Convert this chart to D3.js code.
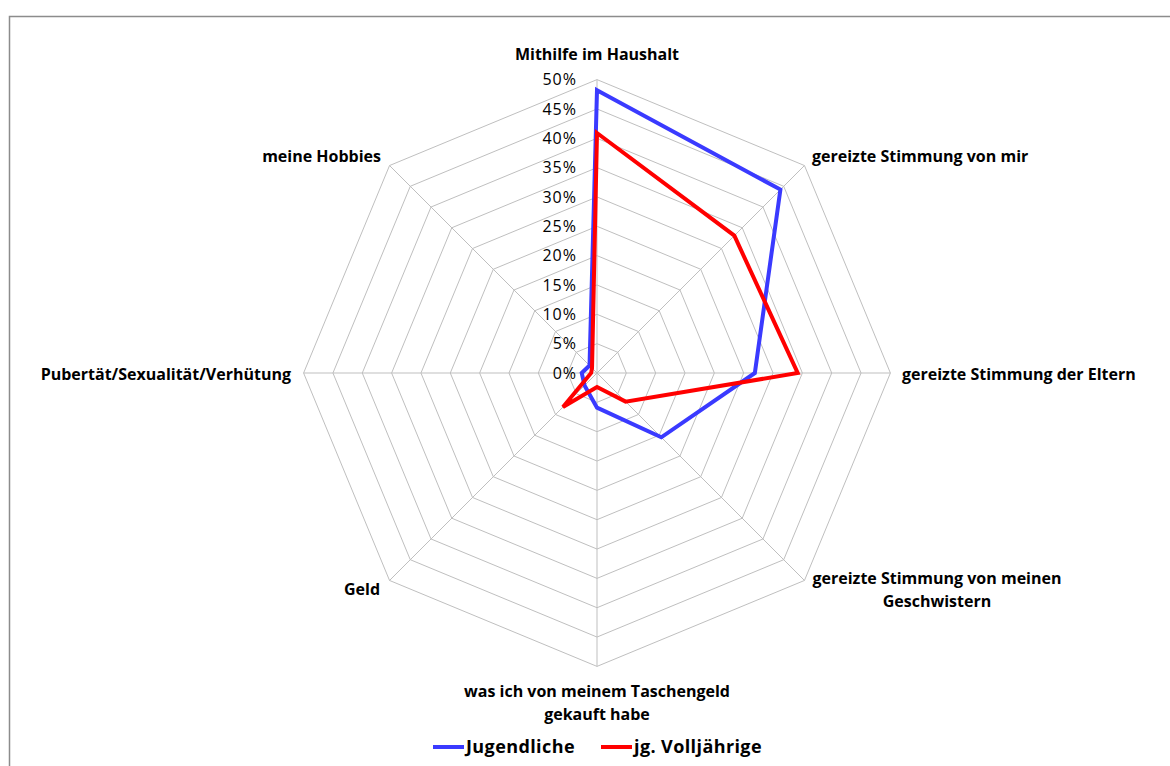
<!DOCTYPE html>
<html>
<head>
  <meta charset="UTF-8">
  <title>Radar</title>
  <script src="https://d3js.org/d3.v7.min.js"></script>
  <style>
    body { margin: 0; background: #fff; }
    svg { display: block; font-family: "Open Sans", Lato, sans-serif; }
  </style>
</head>
<body>
    <svg></svg>

    <script>
        // categories (clockwise from top)
        let categories = [
            ["Mithilfe im Haushalt"],
            ["gereizte Stimmung von mir"],
            ["gereizte Stimmung der Eltern"],
            ["gereizte Stimmung von meinen", "Geschwistern"],
            ["was ich von meinem Taschengeld", "gekauft habe"],
            ["Geld"],
            ["Pubertät/Sexualität/Verhütung"],
            ["meine Hobbies"]
        ];
        let jugendliche = [0.482, 0.442, 0.269, 0.155, 0.059, 0.030, 0.026, 0.018];
        let volljaehrige = [0.409, 0.331, 0.342, 0.069, 0.024, 0.082, 0.010, 0.012];
        let ticks = [0, 0.05, 0.10, 0.15, 0.20, 0.25, 0.30, 0.35, 0.40, 0.45, 0.50];
        let seriesNames = ["Jugendliche", "jg. Volljährige"];

        let width = 1170, height = 766;
        let cx = 597, cy = 373;
        let svg = d3.select("svg")
            .attr("width", width)
            .attr("height", height);

        // outer frame, runs off the page on right/bottom
        svg.append("rect")
            .attr("x", 9.5).attr("y", 16.5)
            .attr("width", 1200).attr("height", 800)
            .attr("fill", "none")
            .attr("stroke", "#8c8c8c")
            .attr("stroke-width", 1.5);

        let r = d3.scaleLinear().domain([0, 0.5]).range([0, 293.4]);
        let angle = i => i * 2 * Math.PI / categories.length;
        let px = (i, v) => cx + r(v) * Math.sin(angle(i));
        let py = (i, v) => cy - r(v) * Math.cos(angle(i));

        let g = svg.append("g");

        // grid polygons
        ticks.slice(1).forEach(t => {
            g.append("polygon")
                .attr("points", categories.map((c, i) => px(i, t) + "," + py(i, t)).join(" "))
                .attr("fill", "none")
                .attr("stroke", "#bfbfbf")
                .attr("stroke-width", 1);
        });
        // spokes
        categories.forEach((c, i) => {
            g.append("line")
                .attr("x1", cx).attr("y1", cy)
                .attr("x2", px(i, 0.5)).attr("y2", py(i, 0.5))
                .attr("stroke", "#bfbfbf")
                .attr("stroke-width", 1);
        });

        // tick labels
        g.selectAll(".tick")
            .data(ticks)
            .enter()
            .append("text")
            .attr("x", cx - 20)
            .attr("y", d => cy - r(d))
            .attr("dy", "0.35em")
            .attr("text-anchor", "end")
            .style("font-size", "16px")
            .style("letter-spacing", "1px")
            .attr("fill", "#000")
            .text(d => d3.format(".0%")(d));

        // category labels
        let labelPos = [
            {x: cx, y: 60, anchor: "middle"},
            {x: 812, y: 162, anchor: "start"},
            {x: 902, y: 380, anchor: "start"},
            {x: 937, y: 584, anchor: "middle"},
            {x: cx, y: 697, anchor: "middle"},
            {x: 380, y: 595, anchor: "end"},
            {x: 291, y: 380, anchor: "end"},
            {x: 381, y: 162, anchor: "end"}
        ];
        categories.forEach((lines, i) => {
            let t = g.append("text")
                .attr("x", labelPos[i].x)
                .attr("y", labelPos[i].y)
                .attr("text-anchor", labelPos[i].anchor)
                .style("font-size", "16px")
                .style("font-weight", "bold")
                .attr("fill", "#000");
            lines.forEach((l, k) => {
                t.append("tspan")
                    .attr("x", labelPos[i].x)
                    .attr("dy", k == 0 ? 0 : 23)
                    .text(l);
            });
        });

        // series
        let colors = ["#3a3aff", "#ff0000"];
        let line = d3.lineRadial()
            .angle((d, i) => angle(i))
            .radius(d => r(d))
            .curve(d3.curveLinearClosed);
        [jugendliche, volljaehrige].forEach((s, k) => {
            g.append("path")
                .attr("transform", "translate(" + cx + "," + cy + ")")
                .attr("d", line(s))
                .attr("fill", "none")
                .attr("stroke", colors[k])
                .attr("stroke-width", 4)
                .attr("stroke-linejoin", "miter");
        });

        // legend
        let legendX = [433, 601];
        seriesNames.forEach((n, k) => {
            g.append("line")
                .attr("x1", legendX[k]).attr("x2", legendX[k] + 31)
                .attr("y1", 747).attr("y2", 747)
                .attr("stroke", colors[k])
                .attr("stroke-width", 4);
            g.append("text")
                .attr("x", legendX[k] + 33)
                .attr("y", 753)
                .style("font-size", "18px")
                .style("font-weight", "bold")
                .style("letter-spacing", "0.4px")
                .attr("fill", "#000")
                .text(n);
        });
    </script>
</body>
</html>
